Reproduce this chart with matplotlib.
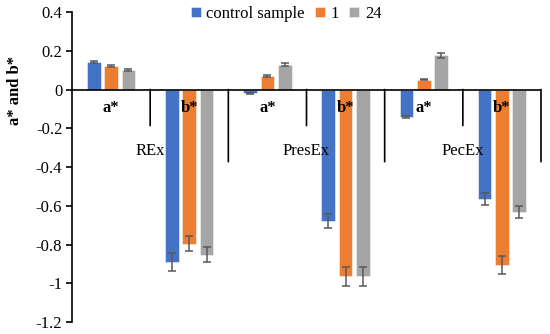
import matplotlib
matplotlib.use("Agg")
import matplotlib.pyplot as plt
import numpy as np

plt.rcParams['font.family'] = ['Liberation Serif', 'DejaVu Serif']

groups = ["REx", "PresEx", "PecEx"]
params = ["a*", "b*"]
series = ["control sample", "1", "24"]
colors = ["#4472C4", "#ED7D31", "#A5A5A5"]

# values per category in order: REx a*, REx b*, PresEx a*, PresEx b*, PecEx a*, PecEx b*
control = [0.14, -0.89, -0.02, -0.68, -0.14, -0.565]
one = [0.12, -0.795, 0.07, -0.965, 0.05, -0.905]
h24 = [0.10, -0.852, 0.128, -0.965, 0.177, -0.633]
control_err = [0.005, 0.045, 0.004, 0.036, 0.005, 0.03]
one_err = [0.005, 0.04, 0.004, 0.05, 0.003, 0.046]
h24_err = [0.004, 0.04, 0.008, 0.05, 0.012, 0.032]

values = [control, one, h24]
errors = [control_err, one_err, h24_err]

FS = 12

fig = plt.figure(figsize=(5.5, 3.34), dpi=100)
ax = fig.add_axes([72/550, 1-322/334, (541-72)/550, 310/334])

n_cat = len(groups) * len(params)
x = np.arange(n_cat)
width = 0.175
step = 0.222
for i, (vals, errs, col, name) in enumerate(zip(values, errors, colors, series)):
    ax.bar(x + (i-1)*step, vals, width, color=col, label=name, edgecolor='#f4f4f4',
           linewidth=0.4, zorder=2,
           yerr=errs, error_kw=dict(ecolor='#595959', elinewidth=1.1, capsize=2.8, capthick=1.1, zorder=3))

ax.set_xlim(-0.5, n_cat - 0.5)
ax.set_ylim(-1.2, 0.4)
ax.set_yticks(np.arange(-1.2, 0.41, 0.2))
ax.set_yticklabels(["-1.2", "-1", "-0.8", "-0.6", "-0.4", "-0.2", "0", "0.2", "0.4"])
ax.tick_params(axis='y', direction='out', length=4, width=1.2, labelsize=FS, pad=3)
ax.set_xticks([])
for s in ['top', 'right', 'bottom']:
    ax.spines[s].set_visible(False)
ax.spines['left'].set_linewidth(1.2)

# category axis at zero
ax.axhline(0, color='black', lw=1.2, zorder=4)

# multi-level category tick marks
for k in range(n_cat):
    xb = k + 0.5
    long = (k % 2 == 1)
    ax.annotate("", xy=(xb, 0), xycoords='data',
                xytext=(0, -(52 if long else 26)), textcoords='offset points',
                arrowprops=dict(arrowstyle='-', color='black', lw=1.2, shrinkA=0, shrinkB=0))

# category labels
for k in range(n_cat):
    ax.annotate(params[k % 2], xy=(k, 0), xycoords='data', xytext=(0, -13),
                textcoords='offset points', ha='center', va='center',
                fontsize=FS, fontweight='bold', zorder=5)
for g, name in enumerate(groups):
    ax.annotate(name, xy=(2*g + 0.5, 0), xycoords='data', xytext=(0, -44),
                textcoords='offset points', ha='center', va='center',
                fontsize=FS, zorder=5)

fig.text(15/550, 1-90/334, "a* and b*", rotation=90, ha='center', va='center',
         fontsize=FS, fontweight='bold')

fig.legend(loc='center', bbox_to_anchor=(286/550, 1-14/334), ncol=3, frameon=False,
           fontsize=FS, handlelength=0.6, handleheight=0.6, handletextpad=0.35,
           columnspacing=0.6, borderpad=0)

fig.savefig("out.png", dpi=100)
